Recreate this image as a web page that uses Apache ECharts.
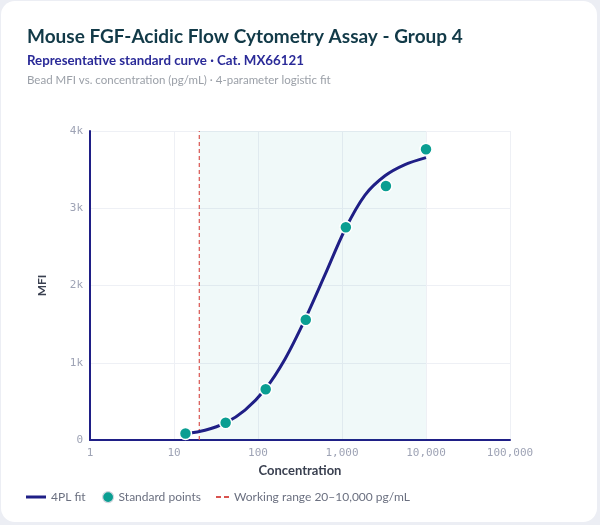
<!DOCTYPE html>
<html>
<head>
<meta charset="utf-8">
<script src="https://cdn.jsdelivr.net/npm/echarts@6/dist/echarts.min.js"></script>
<style>
  html, body { margin: 0; padding: 0; background: #eceef4; }
  #card {
    position: absolute; left: 1px; top: 1px;
    width: 596px; height: 521px;
    background: #ffffff; border-radius: 14px; overflow: hidden;
  }
</style>
</head>
<body>
<div id="card"></div>
<script>
// standard points (3-fold dilution series)
var stdConc = [13.7, 41.2, 123.5, 370.4, 1111, 3333, 10000];
var stdMfi = [85, 224, 656, 1557, 2753, 3288, 3763];

// fitted 4PL curve
var fitConc = [13.7, 23.4, 40.5, 70, 121, 210, 363, 628, 1086, 1878, 3250, 5623, 10000];
var fitMfi = [80, 126, 218, 388, 654, 1050, 1562, 2140, 2725, 3170, 3420, 3565, 3655];

var workingRange = [20, 10000];
var yRange = [0, 4000];
var yTickLabels = ['0', '1k', '2k', '3k', '4k'];

var navy = '#1f1f86';
var teal = '#0a9e92';
var red = '#d9534f';
var mono = '"DejaVu Sans Mono", monospace';
var sans = 'Lato, "Noto Sans", sans-serif';

var legendText = { color: '#6b7080', fontSize: 12, fontFamily: sans };

var chart = echarts.init(document.getElementById('card'));
chart.setOption({
    animation: false,
    textStyle: { fontFamily: sans },
    title: [
        {
            text: 'Mouse FGF-Acidic Flow Cytometry Assay - Group 4',
            left: 26, top: 26, padding: 0,
            textStyle: { fontSize: 19, fontWeight: 'bold', color: '#123a48', fontFamily: sans }
        },
        {
            text: 'Representative standard curve · Cat. MX66121',
            left: 26, top: 53, padding: 0,
            textStyle: { fontSize: 13.3, fontWeight: 'bold', color: '#2a2a98', fontFamily: sans }
        },
        {
            text: 'Bead MFI vs. concentration (pg/mL) · 4-parameter logistic fit',
            left: 26, top: 73, padding: 0,
            textStyle: { fontSize: 11.5, fontWeight: 'normal', color: '#9ba0a8', fontFamily: sans }
        }
    ],
    grid: { left: 89, right: 87, top: 130, bottom: 82 },
    legend: [
        {
            left: 25, top: 490, padding: 0,
            itemWidth: 20, itemHeight: 12,
            textStyle: legendText,
            data: [{ name: '4PL fit', icon: 'path://M0,0 L20,0 L20,3 L0,3 Z', itemStyle: { color: navy } }]
        },
        {
            left: 101, top: 490, padding: 0,
            itemWidth: 11, itemHeight: 11,
            textStyle: legendText,
            data: [{ name: 'Standard points', icon: 'circle', itemStyle: { color: teal, borderColor: '#d3d7df', borderWidth: 1.2 } }]
        },
        {
            left: 215, top: 490, padding: 0,
            itemWidth: 13, itemHeight: 12,
            textStyle: legendText,
            data: [{ name: 'Working range 20–10,000 pg/mL', icon: 'path://M0,0 L5,0 L5,2 L0,2 Z M8,0 L13,0 L13,2 L8,2 Z', itemStyle: { color: red } }]
        }
    ],
    xAxis: {
        type: 'log',
        logBase: 10,
        min: 1,
        max: 100000,
        name: 'Concentration',
        nameLocation: 'middle',
        nameGap: 22,
        nameTextStyle: { fontSize: 13, fontWeight: 'bold', color: '#3a4050', fontFamily: sans },
        axisLine: { lineStyle: { color: navy, width: 2 } },
        axisTick: { show: false },
        axisLabel: {
            color: '#9ea3b5', fontSize: 11, fontFamily: mono, margin: 8,
            formatter: function (v) { return Math.round(v).toLocaleString('en-US'); }
        },
        splitLine: { show: true, lineStyle: { color: '#eef0f5', width: 1 } }
    },
    yAxis: {
        type: 'value',
        min: yRange[0],
        max: yRange[1],
        interval: 1000,
        name: 'MFI',
        nameLocation: 'middle',
        nameGap: 42,
        nameTextStyle: { fontSize: 12, fontWeight: 'bold', color: '#3a4050', fontFamily: sans },
        axisLine: { show: true, lineStyle: { color: navy, width: 2 } },
        axisTick: { show: false },
        axisLabel: {
            color: '#9ea3b5', fontSize: 11, fontFamily: mono, margin: 7,
            formatter: function (v) { return yTickLabels[Math.round(v / 1000)]; }
        },
        splitLine: { lineStyle: { color: '#eef0f5', width: 1 } }
    },
    series: [
        {
            name: 'Working range 20–10,000 pg/mL',
            type: 'line',
            symbol: 'none',
            z: 2,
            data: [[workingRange[0], yRange[0]], [workingRange[0], yRange[1]]],
            lineStyle: { color: red, type: [4, 3], width: 1.2 },
            itemStyle: { color: red },
            markArea: {
                silent: true,
                itemStyle: { color: 'rgba(0, 160, 160, 0.06)' },
                data: [[{ xAxis: workingRange[0] }, { xAxis: workingRange[1] }]]
            }
        },
        {
            name: '4PL fit',
            type: 'line',
            smooth: 0.3,
            symbol: 'none',
            z: 3,
            data: fitConc.map(function (c, i) { return [c, fitMfi[i]]; }),
            lineStyle: { color: navy, width: 3 },
            itemStyle: { color: navy }
        },
        {
            name: 'Standard points',
            type: 'scatter',
            symbolSize: 12,
            z: 4,
            data: stdConc.map(function (c, i) { return [c, stdMfi[i]]; }),
            itemStyle: { color: teal, borderColor: '#ffffff', borderWidth: 1.5, opacity: 1 }
        }
    ]
});
</script>
</body>
</html>
